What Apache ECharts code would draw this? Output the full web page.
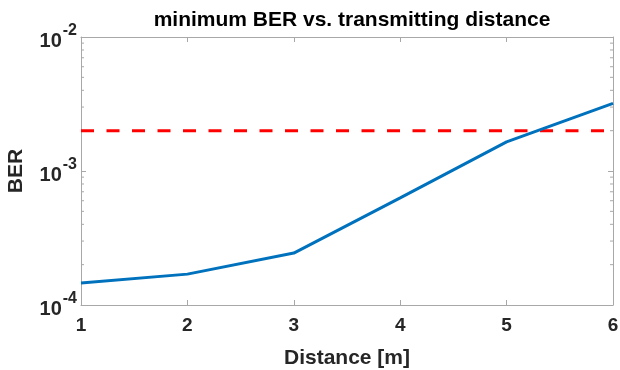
<!DOCTYPE html>
<html>
<head>
<meta charset="utf-8">
<script src="https://cdn.jsdelivr.net/npm/echarts@6/dist/echarts.min.js"></script>
<style>
  html, body { margin: 0; padding: 0; background: #fff; }
  #chart { width: 620px; height: 370px; }
</style>
</head>
<body>
<div id="chart"></div>
<script>
// distances [m]
var distances = [1, 2, 3, 4, 5, 6];
// minimum BER per distance
var berValues = [1.46e-4, 1.70e-4, 2.44e-4, 6.3e-4, 1.65e-3, 3.2e-3];
// FEC limit (red dashed)
var fecLimit = 2.0e-3;
var xTicks = [1, 2, 3, 4, 5, 6];
var yDecades = [1e-4, 1e-3, 1e-2];

// minor tick values on the log axis (2..9 x each decade)
var minorVals = [];
for (var k = 0; k < yDecades.length - 1; k++) {
    for (var m = 2; m <= 9; m++) minorVals.push(m * yDecades[k]);
}

var chart = echarts.init(document.getElementById('chart'));
var font = 'Liberation Sans, Arial, sans-serif';
var axisGray = '#a8a8a8';
var textCol = '#262626';

var option = {
    animation: false,
    title: {
        text: 'minimum BER vs. transmitting distance',
        left: 347,
        textAlign: 'center',
        top: 5,
        textStyle: { fontFamily: font, fontWeight: 'bold', fontSize: 21, color: '#000' }
    },
    grid: { left: 81, right: 7, top: 37, bottom: 65, outerBoundsMode: 'none', containLabel: false },
    xAxis: [{
        type: 'value',
        min: 1, max: 6, interval: 1,
        name: 'Distance [m]',
        nameLocation: 'middle',
        nameGap: 43,
        nameTextStyle: { fontFamily: font, fontWeight: 'bold', fontSize: 21, color: textCol },
        axisLine: { lineStyle: { color: axisGray } },
        axisTick: { inside: true, length: 5, lineStyle: { color: axisGray } },
        axisLabel: {
            margin: 11, fontFamily: font, fontWeight: 'bold', fontSize: 19, color: textCol,
            formatter: function (v) { return xTicks.indexOf(v) >= 0 ? String(v) : ''; }
        },
        splitLine: { show: false }
    }, {
        type: 'value', position: 'top',
        min: 1, max: 6, interval: 1,
        axisLine: { show: true, lineStyle: { color: axisGray } },
        axisTick: { inside: true, length: 5, lineStyle: { color: axisGray } },
        axisLabel: { show: false },
        splitLine: { show: false }
    }],
    yAxis: [{
        type: 'log',
        logBase: 10,
        min: 1e-4, max: 1e-2,
        name: 'BER',
        nameLocation: 'middle',
        nameGap: 54,
        nameTextStyle: { fontFamily: font, fontWeight: 'bold', fontSize: 21, color: textCol },
        axisLine: { show: true, lineStyle: { color: axisGray } },
        axisTick: { inside: true, length: 5, lineStyle: { color: axisGray } },
        axisLabel: {
            margin: 4,
            fontFamily: font, fontWeight: 'bold', fontSize: 20, color: textCol,
            formatter: function (v) {
                var e = Math.round(Math.log10(v));
                return '{b|10}{e|' + e + '}';
            },
            rich: {
                b: { fontFamily: font, fontWeight: 'bold', fontSize: 20, color: textCol, padding: [8, 0, 0, 0] },
                e: { fontFamily: font, fontWeight: 'bold', fontSize: 16, color: textCol, verticalAlign: 'top', padding: [0, 0, 0, 1] }
            }
        },
        splitLine: { show: false }
    }, {
        type: 'log',
        logBase: 10,
        min: 1e-4, max: 1e-2,
        position: 'right',
        axisLine: { show: true, lineStyle: { color: axisGray } },
        axisTick: { inside: true, length: 5, lineStyle: { color: axisGray } },
        axisLabel: { show: false },
        splitLine: { show: false }
    }],
    series: [{
        type: 'line',
        data: distances.map(function (d, i) { return [d, berValues[i]]; }),
        showSymbol: false,
        lineStyle: { color: '#0072bd', width: 3 },
        z: 3
    }, {
        type: 'line',
        data: [[1, fecLimit], [6, fecLimit]],
        showSymbol: false,
        lineStyle: { color: '#ff0000', width: 3, type: [13, 12.5] },
        z: 2
    }, {
        // minor ticks of the log axis, left and right edges
        type: 'custom',
        data: minorVals.map(function (v) { return [v]; }),
        silent: true,
        z: 1,
        renderItem: function (params, api) {
            var left = api.coord([1, api.value(0)]);
            var right = api.coord([6, api.value(0)]);
            var st = { stroke: axisGray, lineWidth: 1 };
            return {
                type: 'group',
                children: [
                    { type: 'line', shape: { x1: left[0], y1: left[1], x2: left[0] + 3, y2: left[1] }, style: st },
                    { type: 'line', shape: { x1: right[0], y1: right[1], x2: right[0] - 3, y2: right[1] }, style: st }
                ]
            };
        }
    }]
};
chart.setOption(option);
</script>
</body>
</html>
